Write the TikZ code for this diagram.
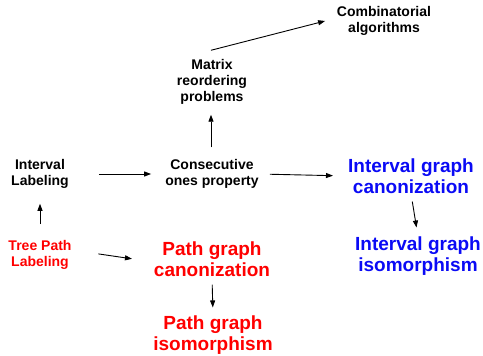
\documentclass[tikz,border=0pt]{standalone}
\usepackage{fontspec}
\setmainfont{Liberation Sans}
\usetikzlibrary{arrows.meta}
\definecolor{pgred}{RGB}{255,0,0}
\definecolor{igblue}{RGB}{10,10,245}
\begin{document}
\begin{tikzpicture}[x=1pt,y=-1pt,
        small/.style={align=center,inner sep=0pt,font=\fontsize{14}{16}\selectfont\bfseries},
        big/.style={align=center,inner sep=0pt,font=\fontsize{19}{21}\selectfont\bfseries},
        conn/.style={line width=0.9pt,-{Triangle[length=7pt,width=5pt]}}]
        \useasboundingbox (0,0) rectangle (483,356);
        %% Black nodes
        \node[small,anchor=center] (IL) at (40,174) {Interval\\Labeling};
        \node[small,anchor=center] (COP) at (212,174) {Consecutive\\ones property};
        \node[small,anchor=center] (MRP) at (212,82) {Matrix\\reordering\\problems};
        \node[small,anchor=center] (CA) at (384,21) {Combinatorial\\algorithms};
        %% Blue nodes
        \node[big,igblue,anchor=center] (IGC) at (411,176) {Interval graph\\canonization};
        \node[big,igblue,anchor=center] (IGI) at (418,256) {Interval graph\\isomorphism};
        %% Red nodes
        \node[small,pgred,anchor=center] (TPL) at (40,255) {Tree Path\\Labeling};
        \node[big,pgred,anchor=center] (PGC) at (212,259) {Path graph\\canonization};
        \node[big,pgred,anchor=center] (PGI) at (213,335) {Path graph\\isomorphism};
        %% Arrows
        \draw[conn,shorten <=30pt,shorten >=14pt] (IL.east) to (COP.west);
        \draw[conn,shorten <=16pt,shorten >=15pt] (TPL.north) to (IL.south);
        \draw[conn,shorten <=27pt,shorten >=22pt] ([yshift=5pt]TPL.east) to ([yshift=-3pt]PGC.west);
        \draw[conn,shorten <=12pt,shorten >=10pt] ([xshift=-1pt]COP.north) to ([xshift=-1pt]MRP.south);
        \draw[conn,shorten >=12pt] ([shift={(-1,-9)}]MRP.north) to ([yshift=3pt]CA.west);
        \draw[conn,shorten <=11pt,shorten >=15pt] (COP.east) to (IGC.west);
        \draw[conn,shorten <=8pt,shorten >=9pt] (IGC.south) to (IGI.north);
        \draw[conn,shorten <=8pt,shorten >=8pt] (PGC.south) to (PGI.north);
    \end{tikzpicture}
\end{document}
